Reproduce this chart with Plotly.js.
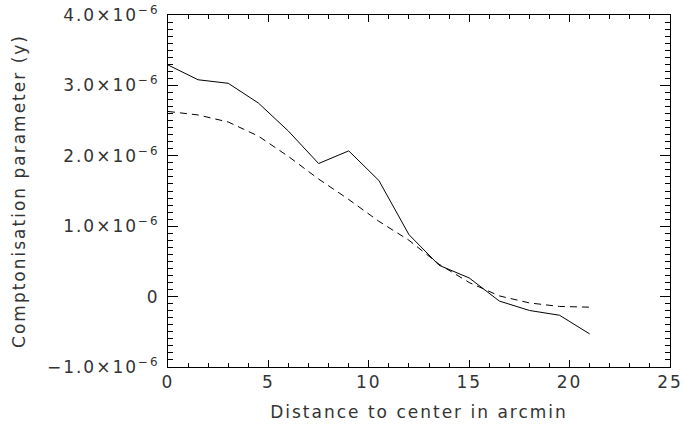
<!DOCTYPE html>
<html>
<head>
<meta charset="utf-8">
<script src="https://cdn.plot.ly/plotly-3.0.1.min.js"></script>
<style>
html,body{margin:0;padding:0;background:#fff;}
#chart{width:684px;height:432px;}
#chart text{letter-spacing:2px;}
</style>
</head>
<body>
<div id="chart"></div>
<script>
var distance = [0, 1.5, 3, 4.5, 6, 7.5, 9, 10.5, 12, 13.5, 15, 16.5, 18, 19.5, 21];
var yObserved = [3.29e-6, 3.08e-6, 3.03e-6, 2.75e-6, 2.35e-6, 1.89e-6, 2.07e-6, 1.65e-6, 0.88e-6, 0.445e-6, 0.265e-6, -0.063e-6, -0.197e-6, -0.265e-6, -0.53e-6];
var yModel = [2.63e-6, 2.58e-6, 2.48e-6, 2.28e-6, 1.99e-6, 1.67e-6, 1.38e-6, 1.07e-6, 0.80e-6, 0.46e-6, 0.20e-6, 0.01e-6, -0.09e-6, -0.14e-6, -0.15e-6];
var yTickVals = [-1e-6, 0, 1e-6, 2e-6, 3e-6, 4e-6];
var yTickText = ["\u22121.0\u00d710<sup>\u22126</sup>", "0", "1.0\u00d710<sup>\u22126</sup>", "2.0\u00d710<sup>\u22126</sup>", "3.0\u00d710<sup>\u22126</sup>", "4.0\u00d710<sup>\u22126</sup>"];
var xTickVals = [0, 5, 10, 15, 20, 25];
var xTickText = ["0", "5", "10", "15", "20", "25"];

var font = {family: "DejaVu Sans", size: 17, color: "#333"};

var traces = [
  {x: distance, y: yObserved, type: "scatter", mode: "lines", line: {color: "#000", width: 1}, showlegend: false},
  {x: distance, y: yModel, type: "scatter", mode: "lines", line: {color: "#000", width: 1, dash: "7px,5px"}, showlegend: false}
];

var layout = {
  width: 684, height: 432,
  margin: {l: 168, r: 14, t: 15, b: 65},
  paper_bgcolor: "#fff", plot_bgcolor: "#fff",
  font: font,
  showlegend: false,
  xaxis: {
    range: [0, 25], showgrid: false, zeroline: false,
    showline: true, linecolor: "#000", linewidth: 1, mirror: "allticks",
    ticks: "inside", ticklen: 7, tickcolor: "#000", tickwidth: 1,
    tickmode: "array", tickvals: xTickVals, ticktext: xTickText,
    tickfont: font,
    minor: {ticks: "inside", ticklen: 4, dtick: 1, tickcolor: "#000", showgrid: false},
    title: {text: "Distance to center in arcmin", font: font, standoff: 14}
  },
  yaxis: {
    range: [-1e-6, 4e-6], showgrid: false, zeroline: false,
    showline: true, linecolor: "#000", linewidth: 1, mirror: "allticks",
    ticks: "inside", ticklen: 10, tickcolor: "#000", tickwidth: 1,
    tickmode: "array", tickvals: yTickVals, ticktext: yTickText,
    tickfont: font, ticklabelstandoff: 4,
    minor: {ticks: "inside", ticklen: 5, dtick: 1e-7, tickcolor: "#000", showgrid: false},
    title: {text: "Comptonisation parameter (y)", font: font, standoff: 34}
  }
};

Plotly.newPlot("chart", traces, layout, {displayModeBar: false, staticPlot: true});
</script>
</body>
</html>
